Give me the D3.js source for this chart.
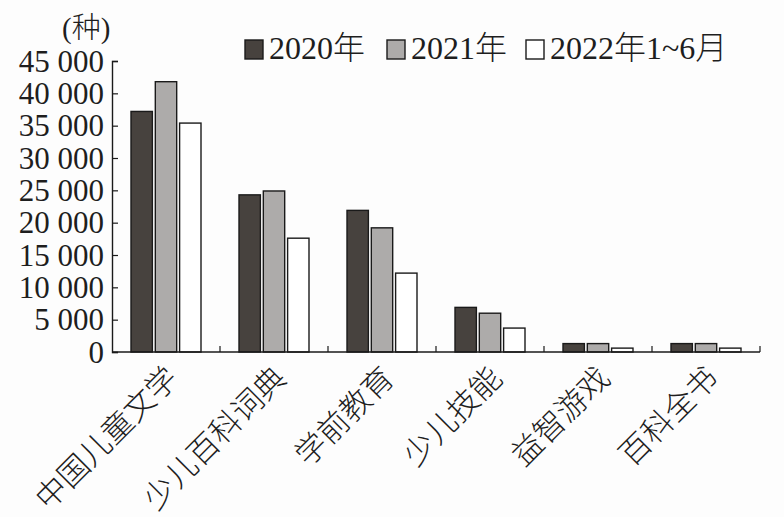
<!DOCTYPE html>
<html>
<head>
<meta charset="utf-8">
<script src="https://cdn.jsdelivr.net/npm/d3@7"></script>
<style>
  body { margin: 0; background: #fdfdfd; }
  text { fill: #1e1e1e; }
  .num { font-family: "Liberation Serif", "DejaVu Serif", serif; }
  .cjk { font-family: "Noto Sans CJK SC", sans-serif; font-weight: 300; }
</style>
</head>
<body>
<div id="chart"></div>
<script>
// Data
let categories = ['中国儿童文学', '少儿百科词典', '学前教育', '少儿技能', '益智游戏', '百科全书'];
let seriesNames = ['2020', '2021', '2022'];
let legendLabels = ['2020年', '2021年', '2022年1~6月'];
let values2020 = [37200, 24300, 21900, 6900, 1300, 1300];
let values2021 = [41800, 24900, 19200, 6000, 1300, 1300];
let values2022 = [35400, 17600, 12200, 3700, 600, 600];
let tickValues = [0, 5000, 10000, 15000, 20000, 25000, 30000, 35000, 40000, 45000];
let tickLabels = ['0', '5 000', '10 000', '15 000', '20 000', '25 000', '30 000', '35 000', '40 000', '45 000'];

let series = [values2020, values2021, values2022];
let fills = ['#47423e', '#adabaa', '#ffffff'];

// D3 Code
let width = 784;
let height = 517;
let margin = { left: 112, right: 24, top: 61, bottom: 165 };

let svg = d3.select('#chart').append('svg').attr('width', width).attr('height', height);

let x = d3
  .scaleBand()
  .domain(categories)
  .range([margin.left, width - margin.right]);

let x1 = d3
  .scaleBand()
  .domain(seriesNames)
  .range([0, 70])
  .paddingInner(0.12);

let y = d3
  .scaleLinear()
  .domain([0, 45000])
  .range([height - margin.bottom, margin.top]);

// bars
series.forEach(function (vals, i) {
  svg
    .selectAll('rect.s' + i)
    .data(vals)
    .enter()
    .append('rect')
    .attr('class', 's' + i)
    .attr('x', function (d, j) {
      return x(categories[j]) + (x.bandwidth() - 70) / 2 + x1(seriesNames[i]);
    })
    .attr('y', function (d) {
      return y(d);
    })
    .attr('width', x1.bandwidth())
    .attr('height', function (d) {
      return y(0) - y(d);
    })
    .style('fill', fills[i])
    .style('stroke', '#1a1a1a')
    .style('stroke-width', 1.4);
});

// y axis
let yAxis = svg
  .append('g')
  .attr('transform', 'translate(' + margin.left + ',0)')
  .call(
    d3
      .axisRight(y)
      .tickValues(tickValues)
      .tickSize(6)
      .tickFormat('')
  );
yAxis.select('.domain').attr('stroke', '#1a1a1a').attr('stroke-width', 1.4);
yAxis.selectAll('.tick line').attr('stroke', '#1a1a1a').attr('stroke-width', 1.2);

svg
  .selectAll('text.ytick')
  .data(tickValues)
  .enter()
  .append('text')
  .attr('class', 'ytick num')
  .attr('x', margin.left - 8)
  .attr('y', function (d) {
    return y(d);
  })
  .attr('dy', '0.34em')
  .attr('text-anchor', 'end')
  .style('font-size', '31px')
  .text(function (d, i) {
    return tickLabels[i];
  });

// x axis with boundary ticks pointing up
let xEdges = d3
  .scaleLinear()
  .domain([0, categories.length])
  .range([margin.left, width - margin.right]);

svg
  .append('line')
  .attr('x1', margin.left)
  .attr('x2', width - margin.right)
  .attr('y1', y(0))
  .attr('y2', y(0))
  .attr('stroke', '#1a1a1a')
  .attr('stroke-width', 1.4);

svg
  .selectAll('line.xtick')
  .data(d3.range(1, categories.length + 1))
  .enter()
  .append('line')
  .attr('class', 'xtick')
  .attr('x1', function (d) {
    return xEdges(d);
  })
  .attr('x2', function (d) {
    return xEdges(d);
  })
  .attr('y1', y(0))
  .attr('y2', y(0) - 6)
  .attr('stroke', '#1a1a1a')
  .attr('stroke-width', 1.2);

// category labels
svg
  .selectAll('text.cat')
  .data(categories)
  .enter()
  .append('text')
  .attr('class', 'cat cjk')
  .attr('text-anchor', 'end')
  .attr('transform', function (d) {
    return 'translate(' + (x(d) + x.bandwidth() / 2 + 14) + ',' + (y(0) + 28) + ') rotate(-45)';
  })
  .style('font-size', '31px')
  .text(function (d) {
    return d;
  });

// unit label
let unit = svg.append('text').attr('x', 62).attr('y', 38).style('font-size', '29px');
unit.append('tspan').attr('class', 'num').text('(');
unit.append('tspan').attr('class', 'cjk').text('种');
unit.append('tspan').attr('class', 'num').text(')');

// legend
let legendX = [245, 387, 526];
legendLabels.forEach(function (label, i) {
  svg
    .append('rect')
    .attr('x', legendX[i])
    .attr('y', 40)
    .attr('width', 18)
    .attr('height', 19)
    .style('fill', fills[i])
    .style('stroke', '#1a1a1a')
    .style('stroke-width', 1.4);

  let t = svg
    .append('text')
    .attr('x', legendX[i] + 24)
    .attr('y', 59)
    .style('font-size', '32px');
  let parts = label.match(/[0-9~]+|[^0-9~]+/g);
  parts.forEach(function (p) {
    t.append('tspan')
      .attr('class', /[0-9~]/.test(p) ? 'num' : 'cjk')
      .text(p);
  });
});
</script>
</body>
</html>
